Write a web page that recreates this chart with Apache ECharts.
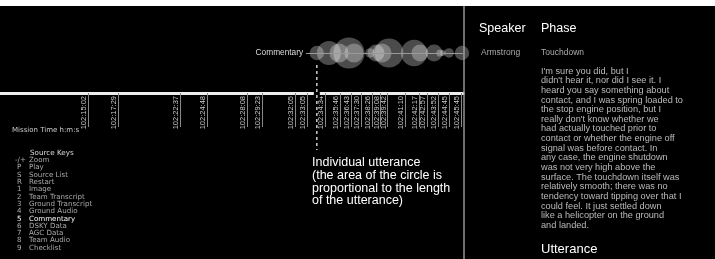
<!DOCTYPE html>
<html>
<head>
<meta charset="utf-8">
<title>Commentary utterances</title>
<script src="https://cdn.jsdelivr.net/npm/echarts@6/dist/echarts.min.js"></script>
<style>
  html, body { margin: 0; padding: 0; background: #000; }
  #chart { width: 715px; height: 259px; }
</style>
</head>
<body>
<div id="chart"></div>
<script>
// mission time ticks (h:m:s)
var tickTimes = ['102:15:02', '102:17:29', '102:22:37', '102:24:48', '102:28:08', '102:29:23',
  '102:32:05', '102:33:05', '102:34:34', '102:35:46', '102:36:43', '102:37:30', '102:38:26',
  '102:39:08', '102:39:42', '102:41:10', '102:42:17', '102:42:57', '102:43:52', '102:44:45', '102:45:45'];

// commentary utterances: start time and length (circle area ~ length)
var uttTimes = ['102:33:52', '102:34:52', '102:35:42', '102:36:31', '102:36:56', '102:38:15', '102:38:45',
  '102:39:14', '102:39:49', '102:41:53', '102:42:22', '102:43:32', '102:44:01', '102:44:16', '102:44:46', '102:45:50'];
var uttLengths = [36, 100, 64, 169, 64, 16, 49, 64, 144, 121, 49, 49, 9, 6, 16, 36];

var axisStart = '102:07:45';
var axisEnd = '102:45:55';
var lineStart = '102:32:59';
var sourceRow = 'Commentary';

var sourceKeys = ['-/+', 'P', 'S', 'R', '1', '2', '3', '4', '5', '6', '7', '8', '9'];
var sourceNames = ['Zoom', 'Play', 'Source List', 'Restart', 'Image', 'Team Transcript', 'Ground Transcript',
  'Ground Audio', 'Commentary', 'DSKY Data', 'AGC Data', 'Team Audio', 'Checklist'];

var speaker = 'Armstrong';
var phase = 'Touchdown';
var utteranceLines = [
  "I'm sure you did, but I",
  "didn't hear it, nor did I see it. I",
  "heard you say something about",
  "contact, and I was spring loaded to",
  "the stop engine position, but I",
  "really don't know whether we",
  "had actually touched prior to",
  "contact or whether the engine off",
  "signal was before contact. In",
  "any case, the engine shutdown",
  "was not very high above the",
  "surface. The touchdown itself was",
  "relatively smooth; there was no",
  "tendency toward tipping over that I",
  "could feel. It just settled down",
  "like a helicopter on the ground",
  "and landed."
];

function toSec(s) {
  var p = s.split(':').map(Number);
  return p[0] * 3600 + p[1] * 60 + p[2];
}
function pad(n) { return (n < 10 ? '0' : '') + n; }
function fmt(v) {
  var h = Math.floor(v / 3600), m = Math.floor((v % 3600) / 60), s = Math.round(v % 60);
  return h + ':' + pad(m) + ':' + pad(s);
}

var FONT = 'Liberation Sans, Arial, sans-serif';
var SMALL = 'DejaVu Sans, sans-serif';
var ROW = 0.46;
var tickSecs = tickTimes.map(toSec);
var bubbles = uttTimes.map(function (t, i) { return [toSec(t), ROW, uttLengths[i]]; });
var pointer = toSec(uttTimes[0]);

var chart = echarts.init(document.getElementById('chart'));

var graphics = [
  { type: 'rect', shape: { x: 0, y: 0, width: 715, height: 6 }, style: { fill: '#fff' }, z: 100 },
  { type: 'line', shape: { x1: 464, y1: 6, x2: 464, y2: 259 }, style: { stroke: '#aaa', lineWidth: 1.3 }, z: 100 },
  { type: 'text', x: 12, y: 130, style: { text: 'Mission Time h:m:s', fill: '#ccc', font: '7px ' + SMALL, verticalAlign: 'middle' } },
  { type: 'text', x: 30, y: 153, style: { text: 'Source Keys', fill: '#ddd', font: '7.2px ' + SMALL, verticalAlign: 'middle' } },
  { type: 'text', x: 312, y: 156.5, style: {
      text: 'Individual utterance\n(the area of the circle is\nproportional to the length\nof the utterance)',
      fill: '#fff', font: '12.5px ' + FONT, lineHeight: 12.7, verticalAlign: 'top' } },
  { type: 'text', x: 479, y: 29, style: { text: 'Speaker', fill: '#fff', font: '12.5px ' + FONT, verticalAlign: 'middle' } },
  { type: 'text', x: 541, y: 29, style: { text: 'Phase', fill: '#fff', font: '12.5px ' + FONT, verticalAlign: 'middle' } },
  { type: 'text', x: 481, y: 52.7, style: { text: speaker, fill: '#aaa', font: '8.5px ' + FONT, verticalAlign: 'middle' } },
  { type: 'text', x: 541, y: 52.7, style: { text: phase, fill: '#aaa', font: '8.5px ' + FONT, verticalAlign: 'middle' } },
  { type: 'text', x: 541, y: 66.2, style: { text: utteranceLines.join('\n'), fill: '#bbb', font: '9.2px ' + FONT, lineHeight: 9.65, verticalAlign: 'top' } },
  { type: 'text', x: 541, y: 249, style: { text: 'Utterance', fill: '#fff', font: '13px ' + FONT, verticalAlign: 'middle' } }
];
sourceKeys.forEach(function (k, i) {
  var y = 160.3 + i * 7.3;
  var hi = sourceNames[i] === sourceRow;
  graphics.push({ type: 'text', x: k.length > 1 ? 15 : 17, y: y, style: { text: k, fill: hi ? '#fff' : '#aaa', font: '7.1px ' + SMALL, verticalAlign: 'middle' } });
  graphics.push({ type: 'text', x: 29, y: y, style: { text: sourceNames[i], fill: hi ? '#fff' : '#aaa', font: '7.1px ' + SMALL, verticalAlign: 'middle' } });
});

chart.setOption({
  backgroundColor: '#000',
  animation: false,
  grid: { left: 0, right: 252, top: 6, bottom: 166 },
  xAxis: {
    type: 'value',
    min: toSec(axisStart),
    max: toSec(axisEnd),
    splitLine: { show: false },
    axisLine: { onZero: false, lineStyle: { color: '#eee', width: 3 } },
    axisTick: { customValues: tickSecs, length: 34, lineStyle: { color: '#888', width: 1 } },
    axisLabel: {
      customValues: tickSecs,
      rotate: 90,
      margin: 3,
      verticalAlign: 'bottom',
      color: '#ccc',
      fontSize: 7.5,
      fontFamily: FONT,
      formatter: function (v) { return fmt(v); }
    }
  },
  yAxis: { type: 'value', min: 0, max: 1, show: false },
  series: [
    {
      type: 'scatter',
      data: bubbles,
      symbolSize: function (d) { return 2.4 * Math.sqrt(d[2]); },
      itemStyle: { color: 'rgba(255,255,255,0.37)' },
      silent: true,
      markLine: {
        silent: true,
        symbol: ['none', 'none'],
        lineStyle: { color: '#999', width: 1, type: 'solid' },
        label: { show: true, position: 'start', distance: 3, formatter: sourceRow, color: '#ddd', fontSize: 8.3, fontFamily: FONT },
        data: [[{ coord: [toSec(lineStart), ROW] }, { coord: [toSec(axisEnd), ROW] }]]
      }
    },
    {
      type: 'line',
      clip: false,
      symbol: 'none',
      silent: true,
      lineStyle: { color: '#000', width: 6 },
      data: [[pointer, 0.08], [pointer, -0.08]]
    },
    {
      type: 'line',
      clip: false,
      symbol: 'none',
      silent: true,
      lineStyle: { color: '#ccc', width: 1.5, type: [3, 3] },
      data: [[pointer, 0.322], [pointer, -0.655]]
    }
  ],
  graphic: graphics
});
</script>
</body>
</html>
